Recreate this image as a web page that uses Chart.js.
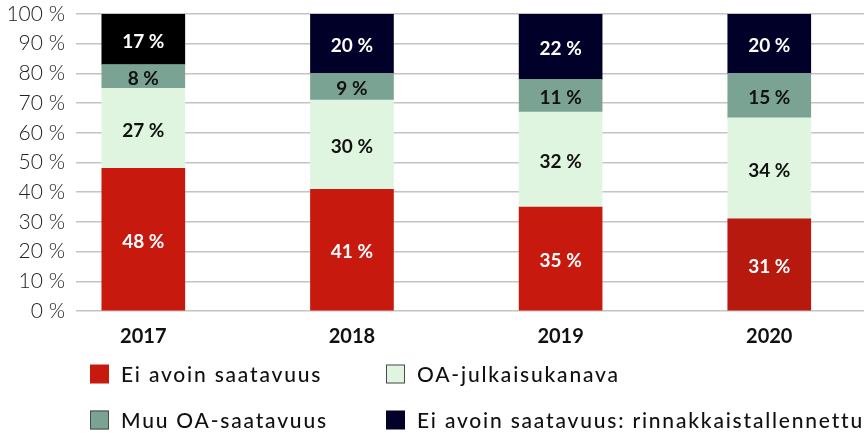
<!DOCTYPE html>
<html><head><meta charset="utf-8">
<script src="https://cdn.jsdelivr.net/npm/chart.js@4"></script>
<style>html,body{margin:0;padding:0;background:#fff;overflow:hidden}#wrap{width:864px;height:433px;position:relative}</style>
</head><body><div id="wrap"><canvas id="c" width="864" height="433"></canvas></div>
<script>
const years = ['2017', '2018', '2019', '2020'];
const eiAvoin = [48, 41, 35, 31];
const oaKanava = [27, 30, 32, 34];
const muuOA = [8, 9, 11, 15];
const rinnakkais = [17, 20, 22, 20];
const seriesNames = ['Ei avoin saatavuus', 'OA-julkaisukanava', 'Muu OA-saatavuus', 'Ei avoin saatavuus: rinnakkaistallennettu'];

const RED = '#C8190F', RED2 = '#B7190F', LG = '#DFF5E0', GG = '#7BA393', NAVY = '#000028', BLACK = '#000000';

function pts(arr) { return arr.map((v, i) => ({ x: i, y: v })); }

const datasets = [
  { label: seriesNames[0], data: pts(eiAvoin), backgroundColor: [RED, RED, RED, RED2], legendColor: RED, labelColor: '#ffffff', legendBorder: null },
  { label: seriesNames[1], data: pts(oaKanava), backgroundColor: LG, legendColor: LG, labelColor: '#111111', legendBorder: '#4a4a4a' },
  { label: seriesNames[2], data: pts(muuOA), backgroundColor: GG, legendColor: GG, labelColor: '#111111', legendBorder: '#4a4a4a' },
  { label: seriesNames[3], data: pts(rinnakkais), backgroundColor: [BLACK, NAVY, NAVY, NAVY], legendColor: NAVY, labelColor: '#ffffff', legendBorder: null }
];
datasets.forEach(d => { d.barThickness = 83; d.borderWidth = 0; });

const FONT = 'Lato, "Open Sans", sans-serif';

const labelPlugin = {
  id: 'segLabels',
  afterDatasetsDraw(chart) {
    const ctx = chart.ctx;
    ctx.save();
    ctx.font = 'bold 19px ' + FONT;
    ctx.textAlign = 'center';
    ctx.textBaseline = 'middle';
    chart.data.datasets.forEach((ds, di) => {
      const meta = chart.getDatasetMeta(di);
      meta.data.forEach((el, i) => {
        const p = el.getProps(['x', 'y', 'base'], true);
        ctx.fillStyle = ds.labelColor;
        ctx.fillText(ds.data[i].y + ' %', p.x, (p.y + p.base) / 2 + 2.5);
      });
    });
    ctx.restore();
  }
};

const legendPlugin = {
  id: 'gridLegend',
  afterDraw(chart) {
    const ctx = chart.ctx;
    const area = chart.chartArea;
    const colX = [area.left + 14, area.left + 310];
    const rowY = [area.bottom + 63, area.bottom + 109];
    ctx.save();
    ctx.font = '500 21px ' + FONT;
    try { ctx.letterSpacing = '1.8px'; } catch (e) {}
    ctx.textBaseline = 'middle';
    ctx.textAlign = 'left';
    chart.data.datasets.forEach((ds, i) => {
      const x = colX[i % 2], y = rowY[Math.floor(i / 2)];
      ctx.fillStyle = ds.legendColor;
      ctx.fillRect(x, y - 9.5, 19, 19);
      if (ds.legendBorder) {
        ctx.strokeStyle = ds.legendBorder;
        ctx.lineWidth = 1;
        ctx.strokeRect(x + 0.5, y - 9, 18, 18);
      }
      ctx.fillStyle = '#111111';
      ctx.fillText(ds.label, x + 31, y + 1);
    });
    ctx.restore();
  }
};

new Chart(document.getElementById('c'), {
  type: 'bar',
  data: { datasets },
  options: {
    responsive: false,
    devicePixelRatio: 1,
    animation: false,
    layout: { padding: { top: 0, right: 0, bottom: 82, left: 0 } },
    plugins: { legend: { display: false }, tooltip: { enabled: false } },
    scales: {
      x: {
        type: 'linear',
        stacked: true,
        offset: false,
        min: -0.3226,
        max: 3.454,
        grid: { display: false, drawTicks: false },
        border: { display: false },
        afterBuildTicks: s => { s.ticks = years.map((_, i) => ({ value: i })); },
        afterFit: s => { s.height = 40; s.paddingLeft = 0; s.paddingRight = 0; },
        ticks: {
          autoSkip: false, maxRotation: 0, padding: 14,
          color: '#111111',
          font: { family: FONT, size: 20, weight: 'bold' },
          callback: v => years[v] !== undefined ? years[v] : ''
        }
      },
      y: {
        stacked: true,
        min: 0, max: 100,
        grid: { color: '#c4c4c4', lineWidth: 1.5, drawTicks: false },
        border: { display: false },
        afterFit: s => { s.width = 76; s.paddingTop = 14; s.paddingBottom = 0; },
        ticks: {
          stepSize: 10, padding: 11,
          color: '#222222',
          font: { family: FONT, size: 21, weight: '300' },
          callback: v => v + ' %'
        }
      }
    }
  },
  plugins: [labelPlugin, legendPlugin]
});
</script></body></html>
